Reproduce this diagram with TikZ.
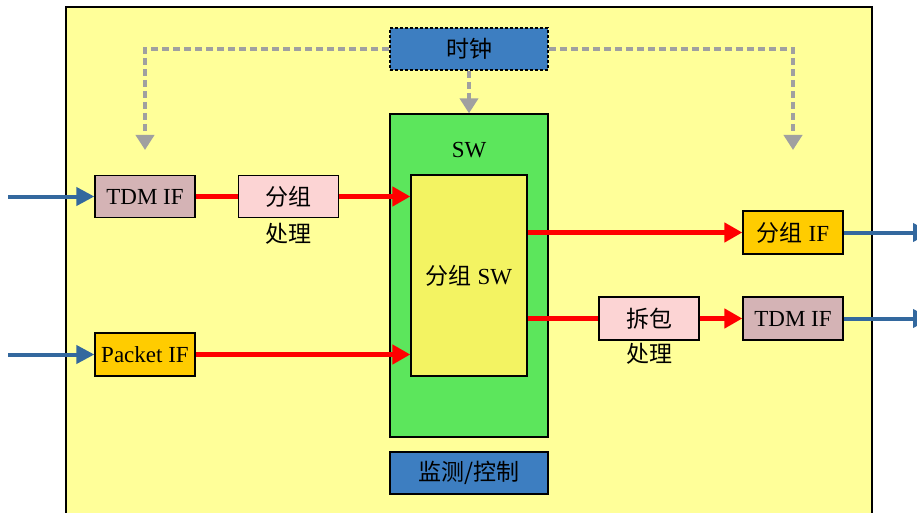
\documentclass[tikz,border=0pt]{standalone}
\usepackage{fontspec}
\setmainfont{Liberation Serif}
\newfontfamily\cjk{Noto Sans CJK SC}
\usetikzlibrary{arrows.meta}
\definecolor{bgyellow}{HTML}{FFFF99}
\definecolor{swgreen}{HTML}{5CE65C}
\definecolor{swinner}{HTML}{F3F362}
\definecolor{ctlblue}{HTML}{3D7EC1}
\definecolor{procpink}{HTML}{FCD4D4}
\definecolor{tdmmauve}{HTML}{D4B3B5}
\definecolor{ifgold}{HTML}{FFCC00}
\definecolor{linkblue}{HTML}{33689E}
\definecolor{clkgray}{HTML}{A0A0A0}
\tikzset{
  box/.style={draw=black, line width=1.3pt, inner sep=0pt, minimum width=100pt,
    minimum height=42pt, font=\fontsize{23}{26}\selectfont},
  wide/.style={box, minimum width=158pt},
  datalink/.style={draw=red, line width=4.6pt},
  dataarrow/.style={datalink, -{Triangle[length=18pt,width=19pt]}},
  extarrow/.style={draw=linkblue, line width=4pt, -{Triangle[length=18pt,width=18pt]}},
  clkarrow/.style={draw=clkgray, line width=4.3pt, dash pattern=on 7pt off 4pt,
    -{Triangle[length=15pt,width=18pt]}},
  sublabel/.style={font=\fontsize{23}{26}\selectfont\cjk, inner sep=0pt}
}
\begin{document}
\begin{tikzpicture}[x=1pt,y=-1pt]
\useasboundingbox (0,0) rectangle (917,513);
\clip (0,0) rectangle (917,513);
% equipment frame
\draw[fill=bgyellow, line width=1.2pt] (66,7) rectangle (872,530);

% clock and monitoring
\node[wide, fill=ctlblue, dash pattern=on 3pt off 2pt, line width=1.6pt] (clk) at (469,49) {\cjk 时钟};
\node[wide, fill=ctlblue] (mon) at (469,473) {\cjk 监测/控制};

% switch fabric
\node[wide, fill=swgreen, minimum height=323pt] (sw) at (469,275.5) {};
\node[font=\fontsize{23}{26}\selectfont, inner sep=0pt] (swlabel) at (469,150) {SW};
\node[box, fill=swinner, minimum width=116pt, minimum height=201pt] (core) at (469,275.5) {{\cjk 分组} SW};

% ingress side
\node[box, fill=tdmmauve] (tdmin) at (145,196.5) {TDM IF};
\node[box, fill=procpink] (pack) at (288.5,196.5) {\cjk 分组};
\node[sublabel] (packlbl) at (288.5,234) {处理};
\node[box, fill=ifgold, minimum height=43pt] (pktin) at (145,354.5) {Packet IF};

% egress side
\node[box, fill=ifgold, minimum height=43pt] (pktout) at (793,232.5) {{\cjk 分组} IF};
\node[box, fill=procpink, minimum height=43pt] (unpack) at (649,318.5) {\cjk 拆包};
\node[sublabel] (unpacklbl) at (649,354) {处理};
\node[box, fill=tdmmauve, minimum height=43pt] (tdmout) at (793,318.5) {TDM IF};

% external links
\coordinate (srcA) at (8,196.5);
\coordinate (srcB) at (8,354.5);
\coordinate (dstA) at (931,232.5);
\coordinate (dstB) at (931,318.5);
\draw[extarrow] (srcA) -- (tdmin.west);
\draw[extarrow] (srcB) -- (pktin.west);
\draw[extarrow] (pktout.east) -- (dstA);
\draw[extarrow] (tdmout.east) -- (dstB);

% clock distribution
\coordinate (clkL) at (145,150);
\coordinate (clkR) at (793,150);
\draw[clkarrow] (clk.west) -| (clkL);
\draw[clkarrow] (clk.east) -| (clkR);
\draw[clkarrow] (clk.south) -- (sw.north);

% data paths
\draw[datalink] (tdmin.east) -- (pack.west);
\draw[dataarrow] (pack.east) -- (core.west |- pack.east);
\draw[dataarrow] (pktin.east) -- (core.west |- pktin.east);
\draw[dataarrow] (core.east |- pktout.west) -- (pktout.west);
\draw[datalink] (core.east |- unpack.west) -- (unpack.west);
\draw[dataarrow] (unpack.east) -- (tdmout.west);
\end{tikzpicture}
\end{document}
